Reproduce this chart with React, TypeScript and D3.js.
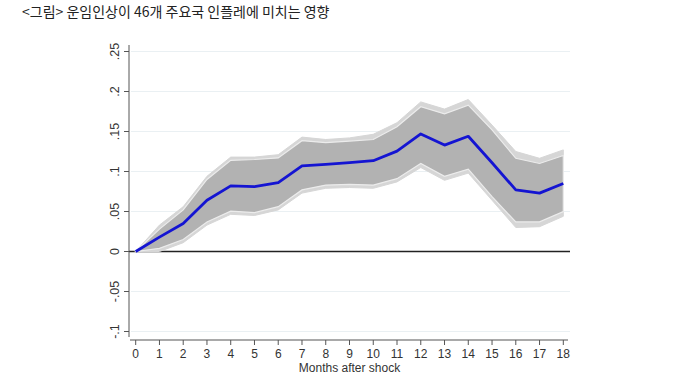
import React from "react";
import * as d3 from "d3";

const months = [0, 1, 2, 3, 4, 5, 6, 7, 8, 9, 10, 11, 12, 13, 14, 15, 16, 17, 18];
const irf = [0, 0.018, 0.035, 0.064, 0.082, 0.081, 0.086, 0.107, 0.109, 0.111, 0.1135, 0.1255, 0.147, 0.133, 0.144, 0.111, 0.077, 0.073, 0.085];
const innerUpper = [0, 0.028, 0.052, 0.09, 0.114, 0.115, 0.117, 0.1385, 0.136, 0.138, 0.14, 0.156, 0.181, 0.172, 0.183, 0.152, 0.1165, 0.11, 0.12];
const innerLower = [0, 0.004, 0.015, 0.037, 0.0505, 0.0485, 0.056, 0.077, 0.083, 0.084, 0.083, 0.091, 0.11, 0.094, 0.103, 0.0685, 0.037, 0.037, 0.05];
const outerUpper = [0, 0.033, 0.056, 0.094, 0.118, 0.118, 0.121, 0.143, 0.14, 0.142, 0.1465, 0.161, 0.187, 0.178, 0.19, 0.158, 0.125, 0.1165, 0.127];
const outerLower = [0, 0.0, 0.011, 0.033, 0.0465, 0.045, 0.052, 0.073, 0.079, 0.08, 0.079, 0.087, 0.105, 0.089, 0.098, 0.064, 0.03, 0.031, 0.044];
const yTicks = [-0.1, -0.05, 0, 0.05, 0.1, 0.15, 0.2, 0.25];
const yTickLabels = ["-.1", "-.05", "0", ".05", ".1", ".15", ".2", ".25"];
const title = "<그림> 운임인상이 46개 주요국 인플레에 미치는 영향";
const xTitle = "Months after shock";

export default function App() {
  const W = 688, H = 385;
  const x = d3.scaleLinear().domain([0, 18]).range([135.7, 563.3]);
  const y = d3.scaleLinear().domain([0, 0.25]).range([251.5, 51.5]);
  const axisX = 129;
  const plotRight = 570;
  const xAxisY = 340;
  const font = "'Liberation Sans', Arial, sans-serif";

  const band = (lo: number[], hi: number[]) =>
    d3.area<number>()
      .x((d) => x(d))
      .y0((_, i) => y(lo[i]))
      .y1((_, i) => y(hi[i]))(months) || "";
  const lineGen = (vals: number[]) =>
    d3.line<number>().x((d) => x(d)).y((_, i) => y(vals[i]))(months) || "";

  return (
    <svg width={W} height={H} style={{ position: "absolute", left: 0, top: 0, background: "#fff" }}>
      <text x={22} y={17} fontFamily="'Noto Sans CJK KR', sans-serif" fontSize={14} fill="#222">{title}</text>
      {yTicks.map((t) => t !== 0 && (
        <line key={"g" + t} x1={axisX + 2} x2={plotRight} y1={y(t)} y2={y(t)} stroke="#eaf0f3" strokeWidth={1} />
      ))}
      <line x1={axisX} x2={plotRight} y1={y(0)} y2={y(0)} stroke="#222" strokeWidth={1.3} />
      <path d={band(outerLower, outerUpper)} fill="#d6d6d6" stroke="#d6d6d6" strokeWidth={1} />
      <path d={band(innerLower, innerUpper)} fill="#b2b2b2" stroke="#ececec" strokeWidth={1.2} />
      <path d={lineGen(irf)} fill="none" stroke="#1414d2" strokeWidth={2.8} strokeLinejoin="round" />
      <line x1={axisX} x2={axisX} y1={45} y2={337} stroke="#555" strokeWidth={1} />
      {yTicks.map((t, i) => (
        <g key={"y" + t}>
          <line x1={axisX - 5} x2={axisX} y1={y(t)} y2={y(t)} stroke="#555" strokeWidth={1} />
          <text
            transform={`translate(${axisX - 10},${y(t)}) rotate(-90)`}
            textAnchor="middle"
            fontFamily={font}
            fontSize={12.5}
            fill="#333"
          >
            {yTickLabels[i]}
          </text>
        </g>
      ))}
      <line x1={130} x2={568} y1={xAxisY} y2={xAxisY} stroke="#555" strokeWidth={1} />
      {months.map((m) => (
        <g key={"x" + m}>
          <line x1={x(m)} x2={x(m)} y1={xAxisY} y2={xAxisY + 5} stroke="#555" strokeWidth={1} />
          <text x={x(m)} y={xAxisY + 18} textAnchor="middle" fontFamily={font} fontSize={12} fill="#333">{m}</text>
        </g>
      ))}
      <text x={349.5} y={371.5} textAnchor="middle" fontFamily={font} fontSize={12} fill="#333">{xTitle}</text>
    </svg>
  );
}
